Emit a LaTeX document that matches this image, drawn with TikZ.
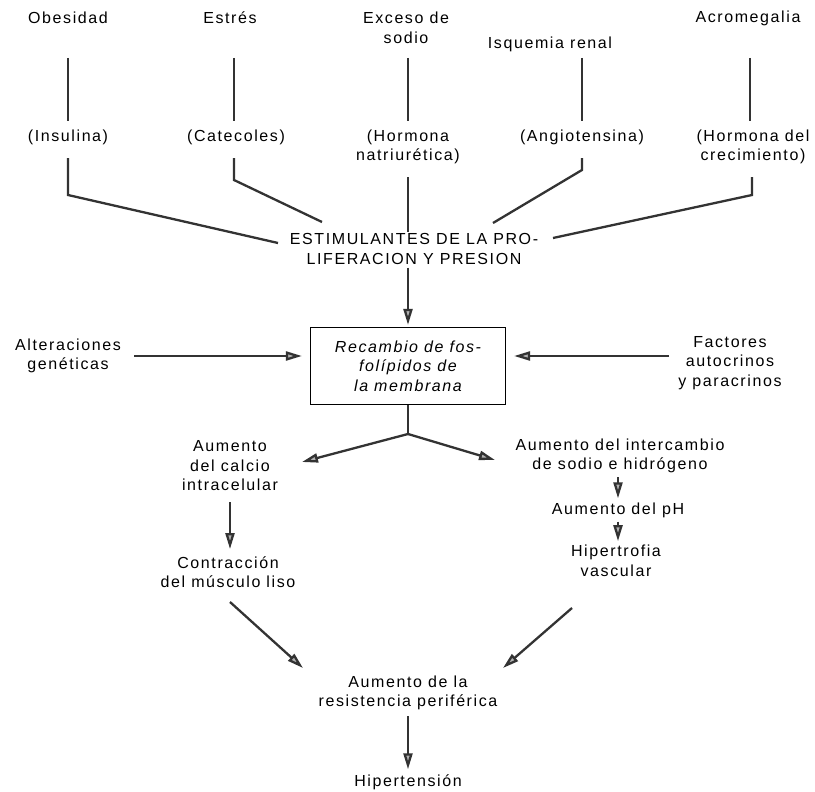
\documentclass[tikz,border=0pt]{standalone}
\usepackage{fontspec}
\setmainfont{Liberation Sans}[LetterSpace=10]
\usetikzlibrary{arrows.meta,positioning,calc}
\tikzset{
x=1pt, y=-1pt, % work in pixels of the page
every node/.style={font=\fontsize{16}{19.5}\selectfont, align=center, inner sep=1pt},
link/.style={line width=2.3pt, draw=black!80}, % plain connecting line
flecha/.style={link, -{Triangle[length=16pt,width=9pt,fill=black!30]}}, % arrow
recuadro/.style={draw, line width=1.2pt, minimum width=195pt, minimum height=77pt, font=\fontsize{16}{19.5}\selectfont\itshape},
}

\begin{document}
\begin{tikzpicture}
   \useasboundingbox (0,0) rectangle (815,792);
   % causes
   \node (ob) at (68,18)  {Obesidad};
   \node (es) at (230,18) {Estrés};
   \node (ex) at (406,28) {Exceso de\\sodio};
   \node (is) at (550,44) {Isquemia renal};
   \node (ac) at (748,18) {Acromegalia};
   % mediators
   \node (ins) at (68,137)  {(Insulina)};
   \node (cat) at (236,137) {(Catecoles)};
   \node (hn)  at (408,147) {(Hormona\\natriurética)};
   \node (ang) at (582,137) {(Angiotensina)};
   \node (hc)  at (753,147) {(Hormona del\\crecimiento)};
   \node (est) at (414,249) {ESTIMULANTES DE LA PRO-\\LIFERACION Y PRESION};
   \node[recuadro] (box) at (408,366) {Recambio de fos-\\folípidos de\\la membrana};
   \node (alt) at (68,356)  {Alteraciones\\genéticas};
   \node (fac) at (730,363) {Factores\\autocrinos\\y paracrinos};
   % consequences
   \node (cal)   at (230,466) {Aumento\\del calcio\\intracelular};
   \node (inter) at (620,456) {Aumento del intercambio\\de sodio e hidrógeno};
   \node (ph)    at (618,510) {Aumento del pH};
   \node (hip)   at (616,561) {Hipertrofia\\vascular};
   \node (con)   at (228,572) {Contracción\\del músculo liso};
   \node (res)   at (408,693) {Aumento de la\\resistencia periférica};
   \node (hta)   at (408,782) {Hipertensión};

   \coordinate (top)  at (0,58);
   \coordinate (mid)  at (0,121);
   \coordinate (low)  at (0,158);
   \coordinate (lowB) at (0,177);
   \coordinate (e1) at (278,243);
   \coordinate (e2) at (322,222);
   \coordinate (e3) at (493,223);
   \coordinate (e4) at (553,238);
   \coordinate (br) at (408,434);
   \coordinate (c1) at (302,462);
   \coordinate (c2) at (495,460);
   \coordinate (r1) at (303,668);
   \coordinate (r2) at (503,668);

   % upper lines
   \draw[link] (ins |- top) -- (ins |- mid);
   \draw[link] (234,58) -- (234,121);
   \draw[link] (hn |- top) -- (hn |- mid);
   \draw[link] (ang |- top) -- (ang |- mid);
   \draw[link] (750,58) -- (750,121);
   \draw[link] (ins |- low) -- ++(0,37) -- (e1);
   \draw[link] (234,158) -- ++(0,22) -- (e2);
   \draw[link] (hn |- lowB) -- (hn |- est.north);
   \draw[link] (ang |- low) -- ++(0,12) -- (e3);
   \draw[link] (752,177) -- ++(0,18) -- (e4);
   \draw[link] (box.south) -- (br);

   % arrows
   \path
    (box |- est.south) edge[flecha, shorten <=2pt, shorten >=2pt] (box.north)
    (alt.east) edge[flecha, shorten <=12pt, shorten >=8pt] (alt.east -| box.west)
    (fac.west |- alt.east) edge[flecha, shorten <=8pt, shorten >=8pt] (box.east |- alt.east)
    (br) edge[flecha] (c1)
    (br) edge[flecha] (c2)
    (ph |- inter.south) edge[flecha, shorten <=3pt, shorten >=3pt] (ph.north)
    (ph.south) edge[flecha, shorten <=3pt, shorten >=3pt] (ph.south |- hip.north)
    (cal.south) edge[flecha, shorten <=10pt, shorten >=6pt] (cal.south |- con.north)
    (230,602) edge[flecha] (r1)
    (572,608) edge[flecha] (r2)
    (res.south) edge[flecha, shorten <=5pt, shorten >=4pt] (res.south |- hta.north);
\end{tikzpicture}
\end{document}
